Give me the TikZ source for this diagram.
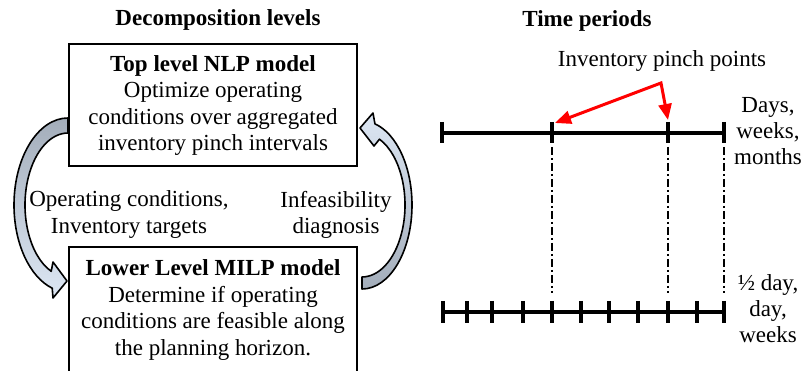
\documentclass[tikz,border=0pt]{standalone}
\usepackage{fontspec}
\setmainfont{Liberation Serif}
\usetikzlibrary{arrows.meta}
\definecolor{armdark}{RGB}{163,173,186}
\definecolor{armlight}{RGB}{221,231,244}
\definecolor{pinchred}{RGB}{255,0,0}
\begin{document}
\begin{tikzpicture}[x=1pt,y=-1pt,
  txt/.style={font=\fontsize{23}{26.4}\selectfont, inner sep=0pt, align=center},
  bold/.style={font=\fontsize{23}{26.4}\selectfont\bfseries},
  modelbox/.style={txt, draw, line width=2pt, minimum width=288pt},
  blockarrow/.style={draw=black, line width=1.6pt, line join=round},
  axis/.style={line width=4pt},
  tickmark/.style={line width=4pt},
  guide/.style={line width=2pt, dash pattern=on 8pt off 3pt on 2pt off 3pt},
  pinch/.style={draw=pinchred, line width=3pt, line join=miter,
    {Triangle[length=16pt,width=13pt]}-{Triangle[length=16pt,width=13pt]}}
]
\useasboundingbox (0,0) rectangle (807,371);
\fill[white] (0,0) rectangle (807,371);

% ---------- decomposition levels ----------
\node[txt, bold, anchor=base] (dtitle) at (218,26) {Decomposition levels};

\node[modelbox, minimum height=122pt] (top) at (213,105.5)
  {\textbf{Top level NLP model}\\Optimize operating\\conditions over aggregated\\inventory pinch intervals};
\node[modelbox, minimum height=126pt] (low) at (213,310)
  {\textbf{Lower Level MILP model}\\Determine if operating\\conditions are feasible along\\the planning horizon.};

\node[txt] (fwd) at (129,214.7) {Operating conditions,\\Inventory targets};
\node[txt] (back) at (336,214.7) {Infeasibility\\diagnosis};

% downward block arrow (top model -> lower model)
\shadedraw[blockarrow, top color=armdark, bottom color=armlight]
  (68,118) arc[start angle=90, end angle=253, x radius=54pt, y radius=87pt]
  -- (53,298) -- (67,281) -- (53,262) -- (51.2,271.3)
  arc[start angle=247, end angle=90, x radius=43pt, y radius=72pt] -- cycle;

% upward block arrow (lower model -> top model)
\shadedraw[blockarrow, top color=armlight, bottom color=armdark]
  (362,289) arc[start angle=-90, end angle=75, x radius=50pt, y radius=84pt]
  -- (373,113) -- (360,128) -- (374,146) -- (379.5,139.2)
  arc[start angle=66, end angle=-90, x radius=43pt, y radius=72pt] -- cycle;

% ---------- time periods ----------
\node[txt, bold, anchor=base] (ttitle) at (587,27) {Time periods};
\node[txt, anchor=base] (pinchlbl) at (662,67) {Inventory pinch points};

% coarse grid
\coordinate (c0) at (442,133);
\coordinate (c3) at (724,133);
\draw[axis] (c0) -- (c3);
\foreach \x in {442,552,668,724} \draw[tickmark] (\x,122) -- (\x,143);

% fine grid
\coordinate (f0) at (442,312);
\coordinate (f3) at (724,312);
\draw[axis] (f0) -- (f3);
\foreach \x in {442.7,466.7,491.7,522.7,552.3,580.7,609.3,638.3,668.3,696.7,724}
  \draw[tickmark] (\x,301) -- (\x,323);

% alignment guides between the grids
\foreach \x/\n in {552/1,668/2,724/3} {
  \coordinate (gu\n) at (\x,147);
  \coordinate (gd\n) at (\x,293);
  \draw[guide] (gu\n) -- (gd\n);
}

% pinch point pointers
\coordinate (apex) at (661,83);
\coordinate (pl) at (555,123);
\coordinate (pr) at (668,120);
\draw[pinch] (pl) -- (apex) -- (pr);

\node[txt] (coarse) at (768,131) {Days,\\weeks,\\months};
\node[txt] (fine) at (768,308.6) {½ day,\\day,\\weeks};
\end{tikzpicture}
\end{document}
